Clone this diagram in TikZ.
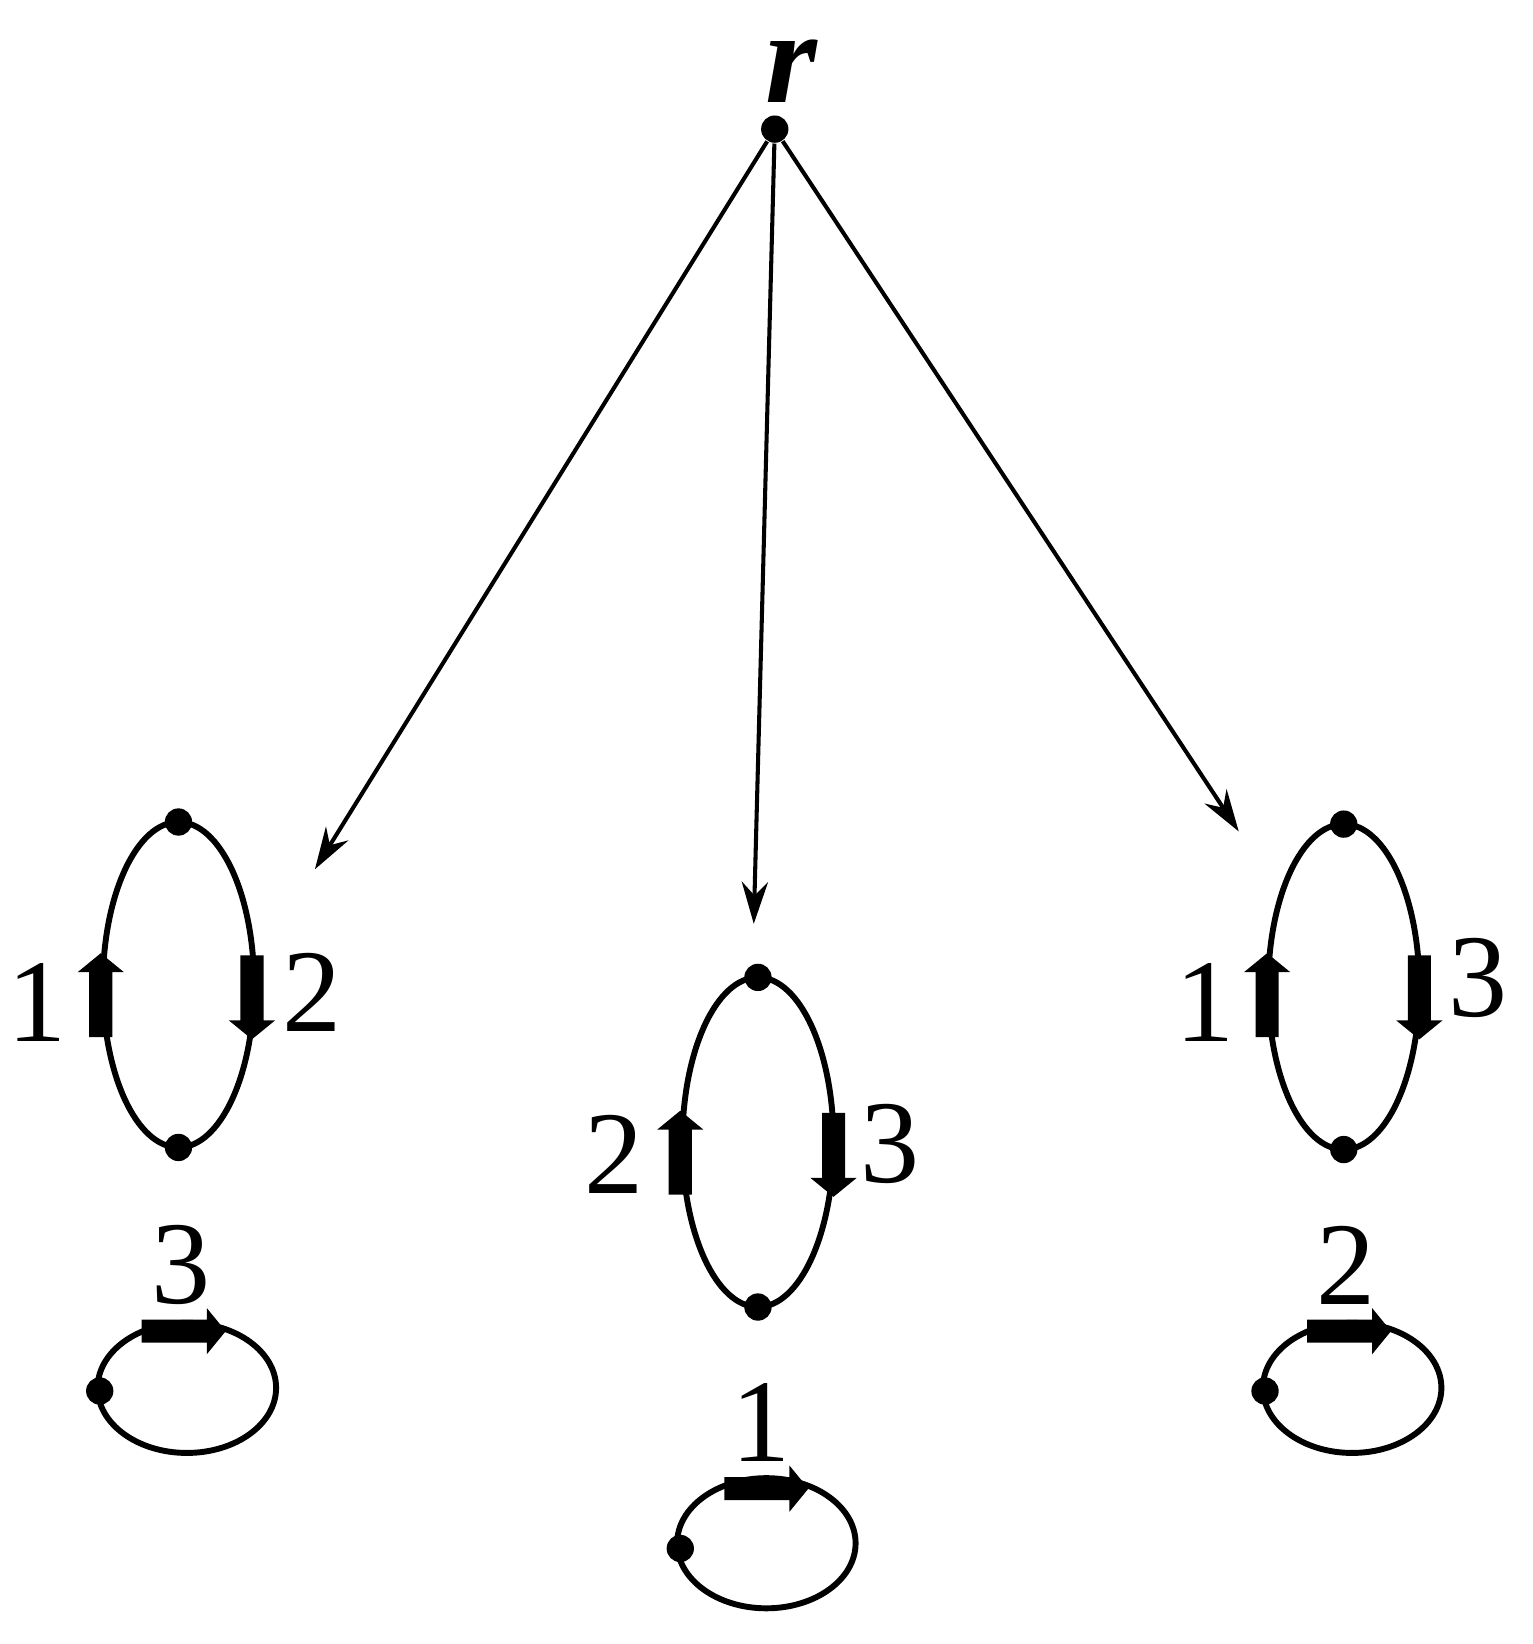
\documentclass[tikz,border=0pt]{standalone}
\usepackage{fontspec}
\setmainfont{Liberation Serif}
\usetikzlibrary{arrows.meta}
\begin{document}
\begin{tikzpicture}[x=0.01cm,y=-0.01cm,
  dot/.style={circle,fill,inner sep=0,minimum size=0.26cm},
  conn/.style={line width=1.1pt,-{Stealth[length=0.4cm,width=0.25cm]}},
  loopline/.style={line width=1.6pt},
  lbl/.style={font=\fontsize{32}{36}\selectfont,inner sep=0},
  fatarrow/.pic={\fill (-11,-80) rectangle (11,-18) (-22,-18) -- (22,-18) -- (0,0) -- cycle;}]
\useasboundingbox (0,0) rectangle (1460,1566);
\node[font=\fontsize{36}{40}\selectfont\itshape\bfseries,inner sep=0] (rl) at (754,68) {r};
\node[dot] (r) at (738,123) {};
\coordinate (t1) at (300,828);
\coordinate (t2) at (718,880);
\coordinate (t3) at (1180,792);
\draw[conn] (r) -- (t1);
\draw[conn] (r) -- (t2);
\draw[conn] (r) -- (t3);
% left
\draw[loopline] (170,938) ellipse [x radius=72,y radius=155];
\node[dot] (a1) at (170,783) {};
\node[dot] (a2) at (170,1093) {};
\pic[rotate=180] at (96,908) {fatarrow};
\pic at (240,990) {fatarrow};
\node[lbl] (la1) at (35,955) {1};
\node[lbl] (la2) at (297,945) {2};
% middle
\draw[loopline] (722,1088) ellipse [x radius=72,y radius=157];
\node[dot] (b1) at (722,931) {};
\node[dot] (b2) at (722,1245) {};
\pic[rotate=180] at (648,1058) {fatarrow};
\pic at (794,1140) {fatarrow};
\node[lbl] (lb1) at (585,1100) {2};
\node[lbl] (lb2) at (848,1090) {3};
% right
\draw[loopline] (1280,940) ellipse [x radius=72,y radius=155];
\node[dot] (c1) at (1280,785) {};
\node[dot] (c2) at (1280,1095) {};
\pic[rotate=180] at (1207,908) {fatarrow};
\pic at (1352,990) {fatarrow};
\node[lbl] (lc1) at (1148,955) {1};
\node[lbl] (lc2) at (1408,932) {3};
% small loops
\draw[loopline] (178,1322) ellipse [x radius=85,y radius=62];
\node[dot] (d1) at (95,1325) {};
\pic[rotate=90] at (215,1268) {fatarrow};
\node[lbl] (ld) at (172,1205) {3};
\draw[loopline] (730,1470) ellipse [x radius=85,y radius=62];
\node[dot] (e1) at (648,1475) {};
\pic[rotate=90] at (770,1418) {fatarrow};
\node[lbl] (le) at (725,1355) {1};
\draw[loopline] (1288,1322) ellipse [x radius=85,y radius=62];
\node[dot] (f1) at (1205,1325) {};
\pic[rotate=90] at (1325,1268) {fatarrow};
\node[lbl] (lf) at (1282,1205) {2};
\end{tikzpicture}
\end{document}
